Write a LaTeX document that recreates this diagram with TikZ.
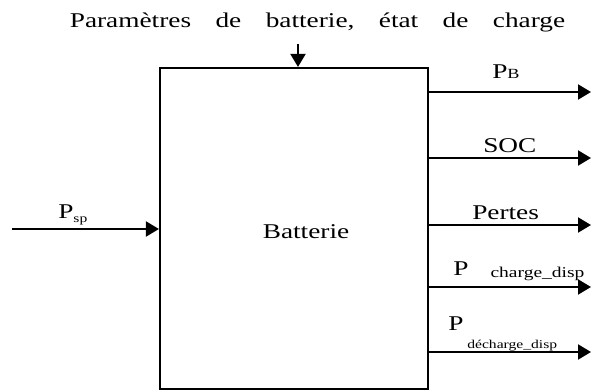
\documentclass[tikz,border=0pt]{standalone}
\usepackage{fontspec}
\setmainfont{Liberation Serif}
\usetikzlibrary{arrows.meta, positioning}

\begin{document}
\begin{tikzpicture}[x=1pt, y=-1pt,
  flow/.style={line width=2pt, -{Triangle[length=13pt, width=15pt]}},
  lbl/.style={inner sep=0pt, anchor=base west, xscale=1.3, font=\fontsize{21}{24}\selectfont}]
\useasboundingbox (0,0) rectangle (592,391);

% Battery block
\node[draw, line width=2.2pt, minimum width=268pt, minimum height=321pt, inner sep=0pt] (batt) at (294,228.5) {};
\node[lbl, anchor=base] (battname) at (306,238) {Batterie};

% Input from the top
\node[lbl, anchor=base] (params) at (317.5,27) {\hbox to 381pt{Paramètres\hfill de\hfill batterie,\hfill état\hfill de\hfill charge}};
\coordinate (paramsin) at (298,44);
\draw[flow] (paramsin) -- (paramsin |- batt.north);

% Input from the left
\coordinate (pspin) at (12,229);
\draw[flow] (pspin) -- (pspin -| batt.west);
\node[lbl] (psp) at (58,218) {P\raisebox{-4pt}{\fontsize{12}{12}\selectfont sp}};

% Outputs
\coordinate (pbout) at (591,92);
\coordinate (socout) at (591,158);
\coordinate (pertout) at (591,225);
\coordinate (chout) at (591,287);
\coordinate (dchout) at (591,352);
\draw[flow] (batt.east |- pbout) -- (pbout);
\draw[flow] (batt.east |- socout) -- (socout);
\draw[flow] (batt.east |- pertout) -- (pertout);
\draw[flow] (batt.east |- chout) -- (chout);
\draw[flow] (batt.east |- dchout) -- (dchout);

% Output labels
\node[lbl] (pb) at (492,78) {P{\fontsize{14}{14}\selectfont B}};
\node[lbl] (soc) at (483,152) {SOC};
\node[lbl] (pertes) at (472,219) {Pertes};
\node[lbl] (pch) at (453,275) {P\hspace{17pt}\raisebox{-2pt}{\fontsize{15}{15}\selectfont charge\_disp}};
\node[lbl] (pdch) at (448,330) {P\hspace{3pt}\raisebox{-18pt}{\fontsize{12}{12}\selectfont décharge\_disp}};
\end{tikzpicture}
\end{document}
